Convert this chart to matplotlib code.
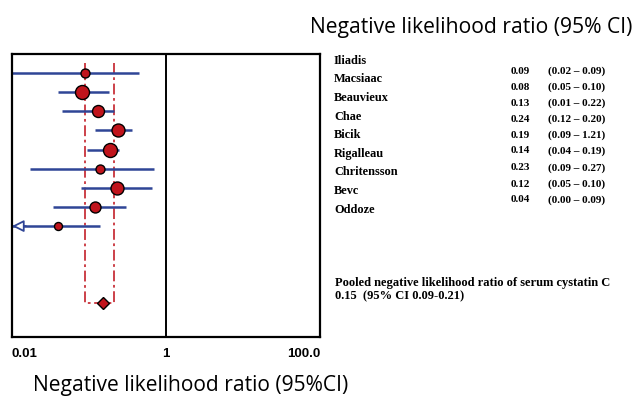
import numpy as np
import matplotlib
matplotlib.use("Agg")
import matplotlib.pyplot as plt

# Study-level negative likelihood ratios
studies = ["Iliadis", "Macsiaac", "Beauvieux", "Chae", "Bicik",
           "Rigalleau", "Chritensson", "Bevc", "Oddoze"]
nlr = [0.09, 0.08, 0.13, 0.24, 0.19, 0.14, 0.23, 0.12, 0.04]
nlr_text = ["0.09", "0.08", "0.13", "0.24", "0.19", "0.14", "0.23", "0.12", "0.04"]
ci_text = ["(0.02 – 0.09)", "(0.05 – 0.10)", "(0.01 – 0.22)", "(0.12 – 0.20)",
           "(0.09 – 1.21)", "(0.04 – 0.19)", "(0.09 – 0.27)", "(0.05 – 0.10)",
           "(0.00 – 0.09)"]
ci_low = [0.01, 0.040, 0.044, 0.12, 0.093, 0.017, 0.079, 0.034, 0.01]
ci_high = [0.44, 0.18, 0.21, 0.36, 0.245, 0.69, 0.65, 0.30, 0.14]
weight = [9, 14, 12, 13, 14, 9, 13, 11, 8]
truncated_left = [False, False, False, False, False, False, False, False, True]

# Pooled estimate
pooled = 0.15
pooled_low = 0.09
pooled_high = 0.21

x_ticks = [0.01, 1, 100]
x_ticklabels = ["0.01", "1", "100.0"]

W, H = 633, 397
fig = plt.figure(figsize=(W / 100, H / 100), dpi=100)
ax = fig.add_axes([12 / W, 1 - 337 / H, 308 / W, 283 / H])
ax.set_xscale("log")
ax.set_xlim(0.01, 100)
ax.set_ylim(14.8, 0)

blue = "#2f4596"
red = "#c0141c"
dash_red = "#c8323a"

rows = np.arange(1, len(studies) + 1)
for y, est, lo, hi, w, trunc in zip(rows, nlr, ci_low, ci_high, weight, truncated_left):
    ax.plot([lo, hi], [y, y], color=blue, lw=1.8, solid_capstyle="butt", zorder=2)
    if trunc:
        # open arrow head sitting just inside the left edge
        ax.annotate("", xy=(lo, y), xytext=(10, 0), textcoords="offset points",
                    arrowprops=dict(arrowstyle="-|>,head_length=0.7,head_width=0.35",
                                    fc="white", ec=blue, lw=1.3, shrinkA=0, shrinkB=0),
                    zorder=3)
    ax.plot([est], [y], marker="o", ms=w * 0.72, mfc=red, mec="black", mew=1.0, zorder=4)

# Pooled confidence bracket
y_pool = 13
ax.plot([pooled_low, pooled_low, pooled_high, pooled_high],
        [0.45, y_pool, y_pool, 0.45], color=dash_red, lw=1.3,
        linestyle=(0, (6, 2, 1.5, 2)), zorder=1)
ax.plot([pooled], [y_pool], marker="D", ms=6.5, mfc=red, mec="black", mew=1.0, zorder=4)

ax.axvline(1, color="black", lw=1.4)
for s in ax.spines.values():
    s.set_linewidth(1.6)
    s.set_color("black")

ax.set_yticks([])
ax.set_xticks(x_ticks)
ax.xaxis.set_minor_locator(matplotlib.ticker.NullLocator())
ax.set_xticklabels(x_ticklabels, fontsize=9.5, fontweight="bold",
                   family="Liberation Sans")
ax.tick_params(axis="x", length=0, pad=8)
labels = ax.get_xticklabels()
labels[0].set_ha("left")
labels[2].set_ha("right")

# Study table
name_y = [61, 79, 98, 117, 135, 154, 172, 191, 210]
val_y = [71, 87, 103, 119, 135, 151, 168, 184, 200]
for name, ny in zip(studies, name_y):
    fig.text(334 / W, 1 - ny / H, name, fontsize=8.8, fontweight="bold",
             family="Liberation Serif", va="center", ha="left")
for v, c, vy in zip(nlr_text, ci_text, val_y):
    fig.text(511 / W, 1 - vy / H, v, fontsize=8.0, fontweight="bold",
             family="Liberation Serif", va="center", ha="left")
    fig.text(548 / W, 1 - vy / H, c, fontsize=8.0, fontweight="bold",
             family="Liberation Serif", va="center", ha="left")

fig.text(335 / W, 1 - 283 / H, "Pooled negative likelihood ratio of serum cystatin C",
         fontsize=9.0, fontweight="bold", family="Liberation Serif", va="center", ha="left")
fig.text(335 / W, 1 - 296 / H, f"{pooled:.2f}  (95% CI {pooled_low:.2f}-{pooled_high:.2f})",
         fontsize=9.0, fontweight="bold", family="Liberation Serif", va="center", ha="left")

fig.text(471 / W, 1 - 27 / H, "Negative likelihood ratio (95% CI)", fontsize=15.2,
         family="Open Sans", va="center", ha="center")
fig.text(191 / W, 1 - 385 / H, "Negative likelihood ratio (95%CI)", fontsize=15.1,
         family="Open Sans", va="center", ha="center")

fig.savefig("out.png", dpi=100)
